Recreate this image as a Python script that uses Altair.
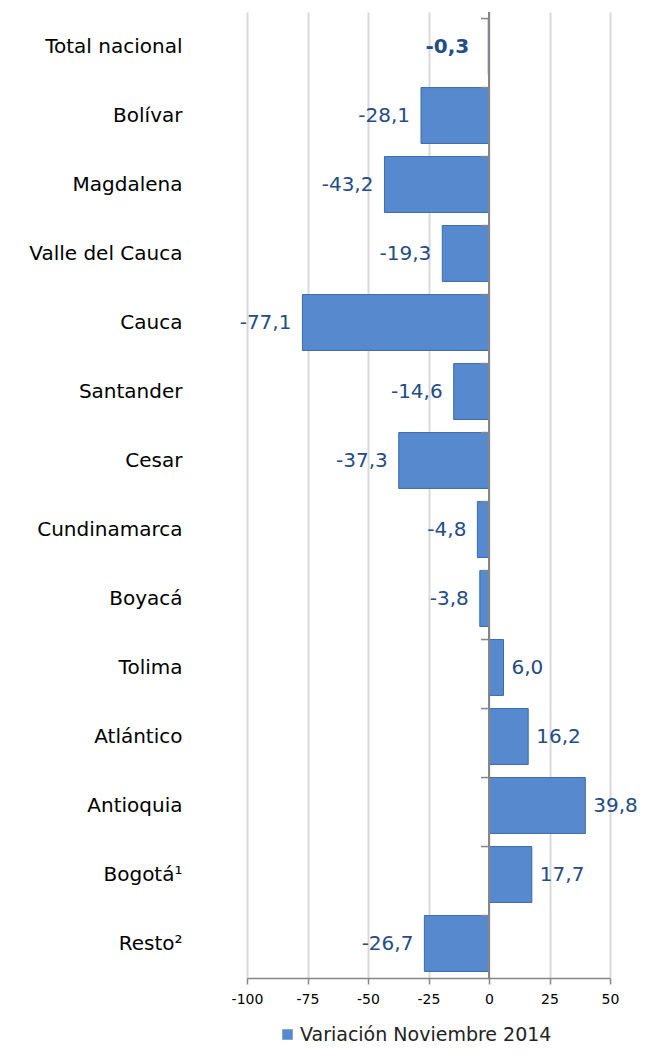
import altair as alt
import pandas as pd

categorias = ["Total nacional", "Bolívar", "Magdalena", "Valle del Cauca", "Cauca",
              "Santander", "Cesar", "Cundinamarca", "Boyacá", "Tolima", "Atlántico",
              "Antioquia", "Bogotá¹", "Resto²"]
variacion = [-0.3, -28.1, -43.2, -19.3, -77.1, -14.6, -37.3, -4.8, -3.8, 6.0, 16.2, 39.8, 17.7, -26.7]
serie = "Variación Noviembre 2014"
ticks_x = [-100, -75, -50, -25, 0, 25, 50]

FONT = "DejaVu Sans"
BAR = "#5689cd"
LBL = "#244c86"

df = pd.DataFrame({
    "cat": categorias,
    "val": variacion,
    "label": [f"{v:.1f}".replace(".", ",") for v in variacion],
    "serie": serie,
    "total": [c == "Total nacional" for c in categorias],
})

W, H = 363, 966
yenc = alt.Y("cat:N", sort=categorias,
             scale=alt.Scale(paddingInner=0.19, paddingOuter=0.095),
             axis=alt.Axis(title=None, domain=False, ticks=False, grid=False,
                           labelFont=FONT, labelFontSize=20, labelColor="#000000",
                           labelPadding=65, labelLimit=0))
xscale = alt.Scale(domain=[-100, 50], nice=False)

base = alt.Chart(df)

bars = base.mark_bar(stroke="#3d6aa8", strokeWidth=1).encode(
    x=alt.X("val:Q", scale=xscale,
            axis=alt.Axis(title=None, values=ticks_x, grid=True, gridColor="#d9d9d9",
                          gridWidth=2, domainColor="#868686", domainWidth=1.5,
                          tickColor="#868686", tickSize=6, tickWidth=1.5,
                          labelExpr="toString(datum.value)", labelFlush=False,
                          labelFont=FONT, labelFontSize=14, labelColor="#000000",
                          labelPadding=8)),
    y=yenc,
    color=alt.Color("serie:N", scale=alt.Scale(range=[BAR]),
                    legend=alt.Legend(title=None, orient="none", legendX=31, legendY=1013,
                                      symbolType="square", symbolSize=110,
                                      symbolStrokeWidth=0, labelFont=FONT,
                                      labelFontSize=19, labelColor="#222222",
                                      labelOffset=3, labelLimit=0, padding=0)),
)

neg = base.transform_filter("datum.val < 0 && !datum.total").mark_text(
    align="right", baseline="middle", dx=-11, font=FONT, fontSize=20, color=LBL
).encode(x="val:Q", y=alt.Y("cat:N", sort=categorias), text="label:N")

pos = base.transform_filter("datum.val >= 0").mark_text(
    align="left", baseline="middle", dx=8, font=FONT, fontSize=20, color=LBL
).encode(x="val:Q", y=alt.Y("cat:N", sort=categorias), text="label:N")

tot = base.transform_filter("datum.total").mark_text(
    align="right", baseline="middle", dx=-19, font=FONT, fontSize=20,
    fontWeight="bold", color=LBL
).encode(x="val:Q", y=alt.Y("cat:N", sort=categorias), text="label:N")

zero = alt.Chart(pd.DataFrame({"x": [0]})).mark_rule(color="#868686", strokeWidth=2).encode(
    x=alt.X("x:Q", scale=xscale))

tk = base.mark_rule(color="#868686", strokeWidth=1.5).encode(
    x=alt.datum(-3.3), x2=alt.datum(0),
    y=alt.Y("cat:N", sort=categorias, bandPosition=0))

chart = alt.layer(bars, zero, tk, neg, pos, tot).properties(
    width=W, height=H,
    autosize=alt.AutoSizeParams(type="none"),
    padding={"left": 239, "top": 4, "right": 34, "bottom": 69},
).configure_view(stroke=None)

chart.save("out.html", embed_options={"renderer": "svg", "actions": False})
